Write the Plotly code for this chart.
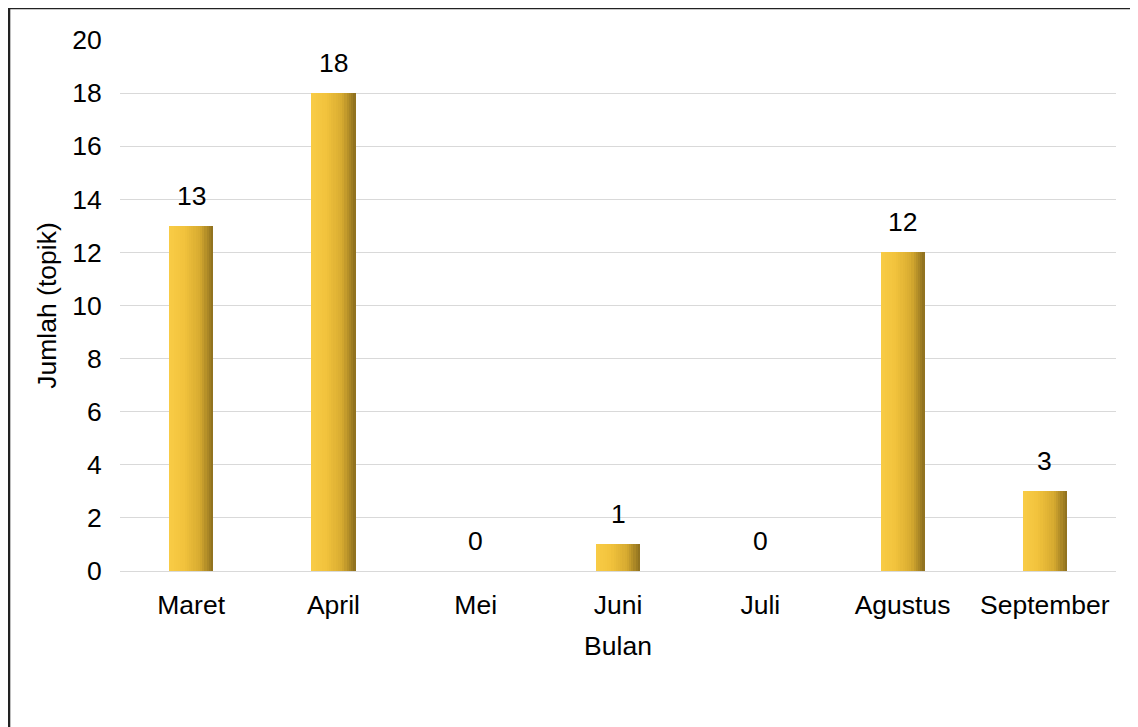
import plotly.graph_objects as go

bulan = ["Maret", "April", "Mei", "Juni", "Juli", "Agustus", "September"]
jumlah = [13, 18, 0, 1, 0, 12, 3]
y_ticks = [0, 2, 4, 6, 8, 10, 12, 14, 16, 18, 20]

FONT = "Liberation Sans, Arial, sans-serif"
FS = 26.5

def lerp(c1, c2, t):
    return tuple(int(round(a + (b - a) * t)) for a, b in zip(c1, c2))

stops = [(0.0, (249, 204, 70)), (0.35, (241, 194, 60)), (0.7, (214, 170, 48)), (1.0, (140, 110, 30))]

def grad(t):
    for (t0, c0), (t1, c1) in zip(stops[:-1], stops[1:]):
        if t0 <= t <= t1:
            return lerp(c0, c1, (t - t0) / (t1 - t0))
    return stops[-1][1]

fig = go.Figure()
bar_w = 0.31
N = 20
sw = bar_w / N
for i in range(N):
    c = grad((i + 0.5) / N)
    fig.add_trace(go.Bar(
        x=bulan, y=jumlah, width=sw * 1.1, offset=-bar_w / 2 + i * sw,
        marker=dict(color="rgb(%d,%d,%d)" % c, line=dict(width=0)),
        hoverinfo="skip", showlegend=False,
    ))

for b, v in zip(bulan, jumlah):
    fig.add_annotation(x=b, y=v, text=str(v), showarrow=False, yanchor="bottom",
                       yshift=13, font=dict(family=FONT, size=FS, color="#000"))

fig.add_shape(type="rect", xref="paper", yref="paper",
              x0=-0.1114, x1=1.2, y0=-0.5, y1=1.0603,
              line=dict(color="#222222", width=2.5), fillcolor="rgba(0,0,0,0)", layer="above")

fig.update_layout(
    width=1138, height=727,
    margin=dict(l=112, r=30, t=32, b=164),
    paper_bgcolor="white", plot_bgcolor="white",
    barmode="overlay", bargap=0,
    font=dict(family=FONT, size=FS, color="#000"),
    xaxis=dict(title=dict(text="Bulan", font=dict(size=FS), standoff=17),
               showgrid=False, showline=False, ticks="outside", ticklen=10,
               tickcolor="rgba(0,0,0,0)", zeroline=False,
               tickfont=dict(size=FS)),
    yaxis=dict(title=dict(text="Jumlah (topik)", font=dict(size=FS), standoff=7),
               range=[0, 20], tickvals=y_ticks, showgrid=True, gridcolor="#d9d9d9",
               gridwidth=1, zeroline=True, zerolinecolor="#d9d9d9", zerolinewidth=1,
               showline=False, ticks="outside", ticklen=12, tickcolor="rgba(0,0,0,0)",
               tickfont=dict(size=FS)),
)
fig.write_html("out.html")
